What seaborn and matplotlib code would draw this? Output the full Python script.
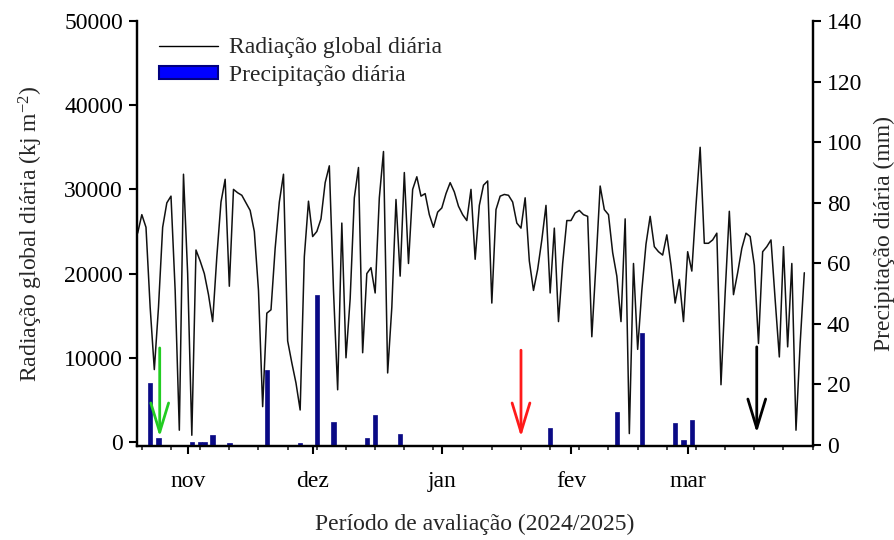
import numpy as np
import pandas as pd
import matplotlib
matplotlib.use('Agg')
import matplotlib.pyplot as plt
import matplotlib.dates as mdates
from matplotlib.lines import Line2D
from matplotlib.patches import Patch
import seaborn as sns

# ---------------- data ----------------
start_date = '2024-10-20'
radiation = [
    24800, 27000, 25500, 16000, 8600, 16000, 25500, 28400, 29200, 18000,
    1400, 31800, 20000, 800, 22800, 21500, 20000, 17500, 14300, 22000,
    28500, 31200, 18500, 30000, 29600, 29300, 28400, 27500, 25000, 18000,
    4200, 15300, 15700, 23000, 28500, 31800, 12000, 9400, 7000, 3800,
    22000, 28600, 24400, 25000, 26500, 30800, 32800, 18000, 6200, 26000,
    10000, 17000, 29000, 32600, 10600, 20000, 20700, 17700, 29000, 34500,
    8200, 16000, 28800, 19700, 32000, 21200, 30000, 31500, 29200, 29500,
    27000, 25500, 27300, 27800, 29500, 30800, 29700, 28000, 27000, 26300,
    30000, 21700, 28100, 30500, 31000, 16500, 27600, 29200, 29400, 29300,
    28500, 26000, 25400, 29000, 21500, 18000, 20500, 24000, 28100, 17700,
    25400, 14300, 21200, 26300, 26300, 27200, 27500, 27000, 26800, 12500,
    21200, 30400, 27600, 27000, 22500, 19700, 14300, 26500, 1000, 21200,
    11000, 18000, 23500, 26800, 23200, 22600, 22200, 24600, 21000, 16500,
    19300, 14300, 22600, 20300, 28100, 35000, 23600, 23600, 24000, 24800,
    6800, 17700, 27400, 17500, 20100, 23000, 24800, 24400, 21000, 11700,
    22600, 23200, 24000, 16900, 10100, 23200, 11300, 21200, 1400, 11700,
    20100,
]
precip_dates = [
    '2024-10-23', '2024-10-25', '2024-11-02', '2024-11-04', '2024-11-05',
    '2024-11-07', '2024-11-11', '2024-11-20', '2024-11-28', '2024-12-02',
    '2024-12-06', '2024-12-14', '2024-12-16', '2024-12-22', '2025-01-27',
    '2025-02-12', '2025-02-18', '2025-02-26', '2025-02-28', '2025-03-02',
]
precip_mm = [20.5, 2.2, 1.1, 1.1, 1.0, 3.3, 0.6, 24.8, 0.6, 49.5,
             7.7, 2.2, 10.0, 3.5, 5.8, 11.0, 37.0, 7.2, 1.6, 8.3]
month_ticks = ['2024-11-01', '2024-12-01', '2025-01-01', '2025-02-01', '2025-03-01']
month_labels = ['nov', 'dez', 'jan', 'fev', 'mar']
arrow_dates = ['2024-10-25 07:00', '2025-01-20 00:00', '2025-03-17 14:00']
arrow_colors = ['#22cc22', '#ff1a1a', 'black']
arrow_top = [11170, 10900, 11300]
arrow_tip = [600, 600, 1070]

# ---------------- style ----------------
sns.set_theme(style='ticks')
plt.rcParams['font.family'] = ['Liberation Serif', 'DejaVu Serif']
plt.rcParams['mathtext.fontset'] = 'custom'
plt.rcParams['mathtext.rm'] = 'Liberation Serif'
plt.rcParams['mathtext.it'] = 'Liberation Serif:italic'
FS = 17

df = pd.DataFrame({'date': pd.date_range(start_date, periods=len(radiation), freq='D'),
                   'rad': radiation})

fig = plt.figure(figsize=(8.94, 5.4), dpi=100)
ax = fig.add_axes([0.1532, 0.1741, 0.7562, 0.787])
sns.lineplot(data=df, x='date', y='rad', ax=ax, color='#111111', lw=1.1)

ax2 = ax.twinx()
ax2.bar(pd.to_datetime(precip_dates), precip_mm, width=1.1, color='#0a0a85',
        edgecolor='#0a0a85', lw=0.5)

ax.set_xlim(pd.Timestamp('2024-10-19 20:00'), pd.Timestamp('2025-03-31 02:00'))
ax.set_ylim(-475, 50000)
ax2.set_ylim(-0.3, 140)
ax.set_yticks(np.arange(0, 50001, 10000))
ax2.set_yticks(np.arange(0, 141, 20))
ax.set_xticks(pd.to_datetime(month_ticks))
ax.set_xticklabels(month_labels)
ax.xaxis.set_minor_locator(mdates.WeekdayLocator(byweekday=mdates.MO))

for a in (ax, ax2):
    a.spines['top'].set_visible(False)
    for s in ('left', 'right', 'bottom'):
        a.spines[s].set_linewidth(1.6)
        a.spines[s].set_color('black')
ax.tick_params(axis='y', direction='out', length=6, width=1.5, labelsize=FS, colors='black', pad=4)
ax2.tick_params(axis='y', direction='out', length=6, width=1.5, labelsize=FS, colors='black', pad=4)
ax.tick_params(axis='x', which='major', direction='out', length=6, width=1.5,
               labelsize=FS, pad=12, colors='black')
ax.tick_params(axis='x', which='minor', direction='out', length=3, width=1.2)

ax.set_xlabel('Período de avaliação (2024/2025)', fontsize=FS, labelpad=16)
ax.set_ylabel('Radiação global diária (kj m$^{-2}$)', fontsize=FS, labelpad=13.5)
ax2.set_ylabel('Precipitação diária (mm)', fontsize=FS, labelpad=8)

for d, c, t, b in zip(arrow_dates, arrow_colors, arrow_top, arrow_tip):
    xd = mdates.date2num(pd.Timestamp(d))
    ax2.annotate('', xy=(xd, b), xytext=(xd, t),
                 xycoords=ax.transData, textcoords=ax.transData,
                 arrowprops=dict(arrowstyle='->,head_length=1.05,head_width=0.32',
                                 color=c, lw=2, mutation_scale=20,
                                 shrinkA=0, shrinkB=0))

handles = [Line2D([], [], color='black', lw=1.0),
           Patch(facecolor='#0000ff', edgecolor='#000080', lw=1.5)]
ax2.legend(handles=handles, labels=['Radiação global diária', 'Precipitação diária'],
           loc='upper left', bbox_to_anchor=(0.033, 0.962), frameon=False, fontsize=FS,
           handlelength=2.5, handleheight=0.45, handletextpad=0.45, labelspacing=0.3,
           borderaxespad=0, borderpad=0)

fig.savefig('out.png', dpi=100)
